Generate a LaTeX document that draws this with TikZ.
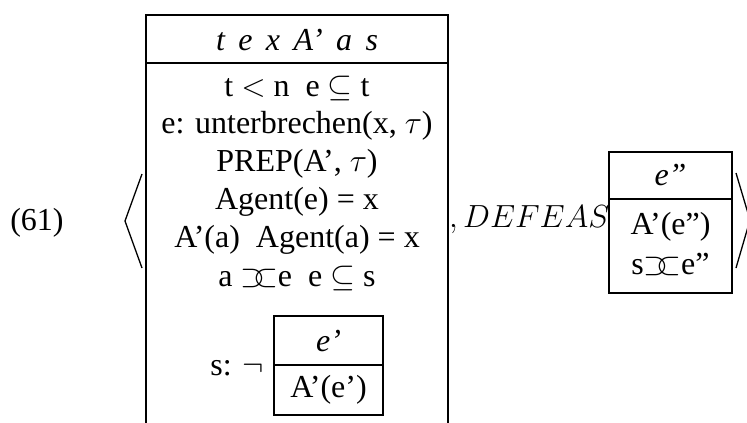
\RequirePackage{fix-cm}
\documentclass[tikz,border=0pt]{standalone}
\usepackage{amsmath, amssymb}
\usepackage{fontspec}
\setmainfont{Liberation Serif}
\usepackage{tikz}
\usetikzlibrary{positioning}
\newcommand{\overlapsym}{\supset\mkern-7mu\subset}

\begin{document}
\begin{tikzpicture}[
  x=1pt,
  y=-1pt,
  frame/.style={draw=black,line width=2.8pt},
  brack/.style={draw=black,line width=1.3pt},
  lab/.style={font=\fontsize{32}{38}\selectfont,inner sep=0pt},
  cond/.style={lab,anchor=center}
]
\useasboundingbox (0,0) rectangle (747,423);

\node[lab] (num) at (37,223) {(61)};
\draw[brack] (142,174) -- (125,221) -- (142,268);

\draw[frame] (146,423) -- (146,15) -- (448,15) -- (448,423);
\draw[frame] (146,63) -- (448,63);
\node[lab] (hdr) at (297,40) {\itshape t\hspace{0.42em}e\hspace{0.42em}x\hspace{0.42em}A'\hspace{0.42em}a\hspace{0.42em}s};
\node[cond] (c1) at (297,88) {t $<$ n\enspace e $\subseteq$ t};
\node[cond] (c2) at (297,126) {e: unterbrechen(x, $\tau$)};
\node[cond] (c3) at (297,164) {PREP(A', $\tau$)};
\node[cond] (c4) at (297,202) {Agent(e) = x};
\node[cond] (c5) at (297,240) {A'(a)\enspace Agent(a) = x};
\node[cond] (c6) at (297,278) {a $\overlapsym$e\enspace e $\subseteq$ s};

\draw[frame] (274,316) rectangle (383,415);
\draw[frame] (274,365) -- (383,365);
\node[lab] (ehdr) at (328.5,341) {\itshape e'};
\node[lab] (ebody) at (328.5,390) {A'(e')};
\node[lab,anchor=east] (neg) at (264,368) {s: $\neg$};

\node[lab,anchor=base west] (defeas) at (449,227) {$,DEFEAS$};

\draw[frame] (609,152) rectangle (732,293);
\draw[frame] (609,199) -- (732,199);
\node[lab] (rhdr) at (670.5,175) {\itshape e''};
\node[lab] (rb1) at (670.5,227) {A'(e'')};
\node[lab] (rb2) at (670.5,264) {s$\overlapsym$e''};
\draw[brack] (736,173) -- (750,220) -- (736,268);
\end{tikzpicture}
\end{document}
